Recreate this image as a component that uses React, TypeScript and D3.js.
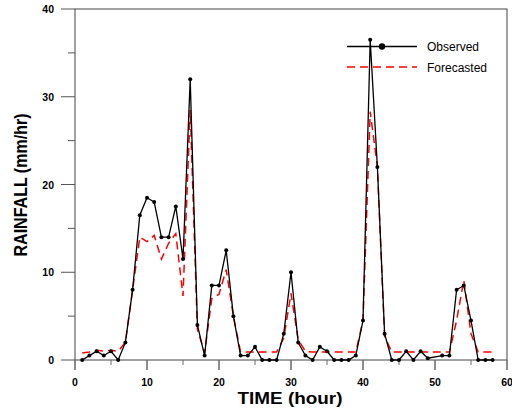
import React, { useEffect, useRef } from 'react'
import * as d3 from 'd3'

// observed rainfall (hour, mm/hr)
const obsHours = [1,2,3,4,5,6,7,8,9,10,11,12,13,14,15,16,17,18,19,20,21,22,23,24,25,26,27,28,29,30,31,32,33,34,35,36,37,38,39,40,41,42,43,44,45,46,47,48,49,51,52,53,54,55,56,57,58]
const obsValues = [0,0.5,1,0.5,1,0,2,8,16.5,18.5,18,14,14,17.5,11.5,32,4,0.5,8.5,8.5,12.5,5,0.5,0.5,1.5,0,0,0,3,10,2,0.5,0,1.5,1,0,0,0,0.5,4.5,36.5,22,3,0,0,1,0,1,0.2,0.5,0.5,8,8.5,4.5,0,0,0]

// forecasted rainfall, hours 1..58
const fcHours = d3.range(1, 59)
const fcValues = [0.8,0.9,1.1,1.0,1.1,1.0,2.0,8.0,14.0,13.5,14.2,11.5,13.3,14.4,7.3,28.5,3.5,0.8,7.0,7.5,10.3,5.0,0.9,0.9,0.9,0.9,0.9,0.9,2.5,7.6,2.3,1.0,0.9,0.9,0.9,0.9,0.9,0.9,0.9,4.5,28.3,22,2.7,0.9,0.9,0.9,0.9,0.9,0.9,0.9,0.9,0.9,4.5,9.1,3.0,0.9,0.9,0.9]

const xTicks = [0, 10, 20, 30, 40, 50, 60]
const yTicks = [0, 10, 20, 30, 40]

export default function App() {
  const ref = useRef<SVGSVGElement>(null)

  useEffect(() => {
    const svg = d3.select(ref.current)
    svg.selectAll('*').remove()

    const x = d3.scaleLinear().domain([0, 60]).range([75, 507])
    const y = d3.scaleLinear().domain([0, 40]).range([360, 9])
    const font = 'Liberation Sans, Arial, sans-serif'

    // frame
    svg.append('rect')
      .attr('x', x(0)).attr('y', y(40))
      .attr('width', x(60) - x(0)).attr('height', y(0) - y(40))
      .attr('fill', 'none').attr('stroke', '#444').attr('stroke-width', 1)

    // x ticks
    d3.range(0, 61, 5).forEach(t => {
      const major = t % 10 === 0
      svg.append('line')
        .attr('x1', x(t)).attr('x2', x(t))
        .attr('y1', y(0)).attr('y2', y(0) + (major ? 10 : 5))
        .attr('stroke', '#666').attr('stroke-width', major ? 1.5 : 1)
    })
    svg.append('g').selectAll('text').data(xTicks).enter().append('text')
      .attr('x', d => x(d)).attr('y', 386)
      .attr('text-anchor', 'middle')
      .attr('font-family', font).attr('font-weight', 'bold').attr('font-size', 10.5)
      .text(d => d)

    // y ticks
    d3.range(0, 41, 5).forEach(t => {
      const major = t % 10 === 0
      svg.append('line')
        .attr('x1', x(0) - (major ? 14 : 7)).attr('x2', x(0))
        .attr('y1', y(t)).attr('y2', y(t))
        .attr('stroke', '#555').attr('stroke-width', 1)
    })
    svg.append('g').selectAll('text').data(yTicks).enter().append('text')
      .attr('x', 54).attr('y', d => y(d) + 4)
      .attr('text-anchor', 'end')
      .attr('font-family', font).attr('font-weight', 'bold').attr('font-size', 10.5)
      .text(d => d)

    // axis titles
    svg.append('text')
      .attr('x', 290).attr('y', 404)
      .attr('text-anchor', 'middle')
      .attr('font-family', font).attr('font-weight', 'bold').attr('font-size', 16.5)
      .attr('textLength', 105).attr('lengthAdjust', 'spacingAndGlyphs')
      .text('TIME (hour)')
    svg.append('text')
      .attr('transform', 'translate(27,185) rotate(-90)')
      .attr('text-anchor', 'middle')
      .attr('font-family', font).attr('font-weight', 'bold').attr('font-size', 19)
      .attr('textLength', 143).attr('lengthAdjust', 'spacingAndGlyphs')
      .text('RAINFALL (mm/hr)')

    // forecast line
    const fc = fcHours.map((h, i) => [h, fcValues[i]] as [number, number])
    svg.append('path')
      .datum(fc)
      .attr('d', d3.line<[number, number]>().x(d => x(d[0])).y(d => y(d[1])))
      .attr('fill', 'none').attr('stroke', '#ff0000')
      .attr('stroke-width', 1.5).attr('stroke-dasharray', '8,5')

    // observed line
    const obs = obsHours.map((h, i) => [h, obsValues[i]] as [number, number])
    svg.append('path')
      .datum(obs)
      .attr('d', d3.line<[number, number]>().x(d => x(d[0])).y(d => y(d[1])))
      .attr('fill', 'none').attr('stroke', '#000').attr('stroke-width', 1.3)
    svg.append('g').selectAll('circle').data(obs).enter().append('circle')
      .attr('cx', d => x(d[0])).attr('cy', d => y(d[1]))
      .attr('r', 2).attr('fill', '#000')

    // legend
    svg.append('line')
      .attr('x1', 347).attr('x2', 417).attr('y1', 46.5).attr('y2', 46.5)
      .attr('stroke', '#000').attr('stroke-width', 1.3)
    svg.append('circle').attr('cx', 382).attr('cy', 46.5).attr('r', 3.2).attr('fill', '#000')
    svg.append('text')
      .attr('x', 427).attr('y', 51)
      .attr('font-family', font).attr('font-size', 12)
      .text('Observed')
    svg.append('line')
      .attr('x1', 347).attr('x2', 417).attr('y1', 67).attr('y2', 67)
      .attr('stroke', '#ff0000').attr('stroke-width', 1.5).attr('stroke-dasharray', '8,5')
    svg.append('text')
      .attr('x', 427).attr('y', 71.5)
      .attr('font-family', font).attr('font-size', 12)
      .text('Forecasted')
  }, [])

  return (
    <div style={{ position: 'absolute', left: 0, top: 0 }}>
      <svg ref={ref} width={512} height={408} style={{ display: 'block', background: '#fff' }} />
    </div>
  )
}
